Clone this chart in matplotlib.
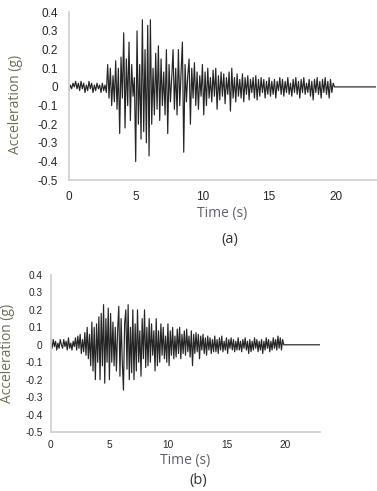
import numpy as np
import matplotlib
matplotlib.use('Agg')
import matplotlib.pyplot as plt

# acceleration records, one value every 0.1 s from t = 0
dt = 0.1
t_end = 23.0

acc_a = [
    -0.02, 0.01, -0.01, 0.02, 0.00, 0.03, -0.01, 0.02, -0.02, 0.03,
    -0.01, 0.02, -0.03, 0.01, -0.02, 0.03, -0.01, 0.02, -0.03, 0.01,
    -0.02, 0.02, -0.01, 0.01, -0.03, 0.02, -0.02, 0.01, -0.03, 0.12,
    -0.06, 0.10, -0.10, 0.06, -0.08, 0.14, -0.12, 0.10, -0.25, 0.16,
    -0.06, 0.29, -0.22, 0.15, -0.10, 0.24, -0.18, 0.12, -0.05, 0.05,
    -0.40, 0.30, -0.20, 0.12, -0.28, 0.36, -0.24, 0.20, -0.30, 0.33,
    -0.37, 0.36, -0.20, 0.10, -0.15, 0.18, -0.12, 0.22, -0.18, 0.15,
    -0.10, 0.08, -0.15, 0.20, -0.25, 0.12, -0.08, 0.05, 0.20, -0.12,
    0.10, -0.15, 0.20, -0.10, 0.08, 0.24, -0.35, 0.12, -0.08, 0.06,
    0.15, -0.20, 0.10, -0.06, 0.13, -0.10, 0.08, -0.12, 0.06, -0.05,
    0.12, -0.15, 0.08, -0.10, 0.10, -0.06, 0.05, -0.08, 0.09, -0.05,
    0.10, -0.12, 0.06, -0.07, 0.08, -0.05, 0.07, -0.09, 0.05, -0.04,
    0.08, -0.13, 0.10, -0.06, 0.05, -0.08, 0.07, -0.05, 0.04, -0.06,
    0.07, -0.08, 0.05, -0.04, 0.06, -0.07, 0.04, -0.03, 0.05, -0.06,
    0.06, -0.07, 0.04, -0.05, 0.05, -0.03, 0.04, -0.06, 0.03, -0.04,
    0.05, -0.05, 0.03, -0.04, 0.04, -0.06, 0.03, -0.02, 0.05, -0.04,
    0.04, -0.05, 0.03, -0.03, 0.05, -0.04, 0.02, -0.05, 0.04, -0.03,
    0.05, -0.04, 0.03, -0.06, 0.04, -0.03, 0.05, -0.04, 0.02, -0.03,
    0.04, -0.05, 0.03, -0.07, 0.04, -0.03, 0.05, -0.04, 0.03, -0.06,
    0.04, -0.03, 0.05, -0.04, 0.03, -0.06, 0.04, -0.03, 0.02, 0.00,
]

acc_b = [
    0.01, -0.02, 0.03, -0.01, 0.02, -0.03, 0.01, -0.02, 0.03, 0.00,
    -0.02, 0.03, -0.01, 0.02, -0.03, 0.04, -0.02, 0.01, -0.03, 0.02,
    -0.01, 0.04, -0.03, 0.05, -0.02, 0.06, -0.05, 0.03, -0.04, 0.07,
    -0.06, 0.10, -0.08, 0.06, -0.12, 0.13, -0.15, 0.10, -0.20, 0.12,
    -0.10, 0.16, -0.20, 0.18, -0.12, 0.23, -0.22, 0.15, -0.10, 0.21,
    -0.20, 0.18, -0.10, 0.13, -0.12, 0.10, -0.15, 0.08, 0.22, -0.18,
    0.15, -0.10, -0.26, 0.12, 0.20, -0.14, 0.23, -0.20, 0.10, -0.16,
    0.20, -0.20, 0.12, -0.15, 0.20, -0.10, 0.08, -0.18, 0.15, -0.08,
    0.20, -0.13, 0.10, -0.12, 0.15, -0.10, 0.12, -0.06, 0.08, -0.15,
    0.15, -0.12, 0.08, -0.10, 0.12, -0.06, 0.10, -0.08, 0.05, -0.10,
    0.12, -0.12, 0.08, -0.06, 0.10, -0.08, 0.05, -0.07, 0.09, -0.05,
    0.10, -0.08, 0.06, -0.05, 0.08, -0.06, 0.09, -0.04, 0.05, -0.07,
    0.08, -0.12, 0.06, -0.05, 0.07, -0.04, 0.06, -0.08, 0.05, -0.03,
    0.06, -0.05, 0.04, -0.06, 0.05, -0.03, 0.04, -0.05, 0.03, -0.04,
    0.05, -0.04, 0.03, -0.05, 0.04, -0.03, 0.05, -0.04, 0.02, -0.03,
    0.04, -0.05, 0.03, -0.02, 0.04, -0.03, 0.03, -0.04, 0.02, -0.03,
    0.04, -0.03, 0.02, -0.04, 0.03, -0.02, 0.04, -0.03, 0.02, -0.05,
    0.03, -0.04, 0.02, -0.03, 0.04, -0.02, 0.03, -0.04, 0.02, -0.03,
    0.03, -0.05, 0.02, -0.03, 0.04, -0.02, 0.03, -0.04, 0.02, -0.03,
    0.04, -0.02, 0.03, -0.03, 0.05, -0.02, 0.04, -0.03, 0.03, 0.00,
]

yticks = [0.4, 0.3, 0.2, 0.1, 0, -0.1, -0.2, -0.3, -0.4, -0.5]
ytick_labels = ['0.4', '0.3', '0.2', '0.1', '0', '-0.1', '-0.2', '-0.3', '-0.4', '-0.5']
xticks = [0, 5, 10, 15, 20]

label_col = '#6f6f58'
time_col = '#5e5f6e'
tick_col = '#262626'
spine_col = '#d2d2d2'


def record(acc):
    # time axis of the record, then the flat zero line after it ends
    t = np.arange(len(acc)) * dt
    t = np.append(t, t_end)
    a = np.append(np.array(acc), 0.0)
    return t, a


def draw(ax, acc, tick_fs, lab_fs, pad):
    t, a = record(acc)
    ax.plot(t, a, color='#242424', lw=0.85)
    ax.set_xlim(0, t_end)
    ax.set_ylim(-0.5, 0.4)
    ax.set_yticks(yticks)
    ax.set_yticklabels(ytick_labels)
    ax.set_xticks(xticks)
    ax.tick_params(length=0, labelsize=tick_fs, colors=tick_col, pad=pad)
    for lab in ax.get_xticklabels() + ax.get_yticklabels():
        lab.set_family('Liberation Sans')
    for s in ['top', 'right']:
        ax.spines[s].set_visible(False)
    for s in ['left', 'bottom']:
        ax.spines[s].set_color(spine_col)
        ax.spines[s].set_linewidth(1.3)
    ax.set_ylabel('Acceleration (g)', color=label_col, fontsize=lab_fs, family='Open Sans')
    ax.set_xlabel('Time (s)', color=time_col, fontsize=lab_fs, family='Open Sans', labelpad=2)


fig = plt.figure(figsize=(3.77, 4.91), dpi=100)

ax1 = fig.add_axes([0.183, 0.633, 0.814, 0.342])
draw(ax1, acc_a, 8.5, 10, 8)
ax1.yaxis.set_label_coords(-0.15, 0.45)

ax2 = fig.add_axes([0.135, 0.120, 0.714, 0.320])
draw(ax2, acc_b, 7.3, 10, 6)
ax2.yaxis.set_label_coords(-0.135, 0.5)

fig.text(0.61, 0.512, '(a)', fontsize=10.5, color='#333333', family='Open Sans', ha='center', va='center')
fig.text(0.525, 0.022, '(b)', fontsize=10.5, color='#333333', family='Open Sans', ha='center', va='center')

fig.savefig('out.png', dpi=100)
